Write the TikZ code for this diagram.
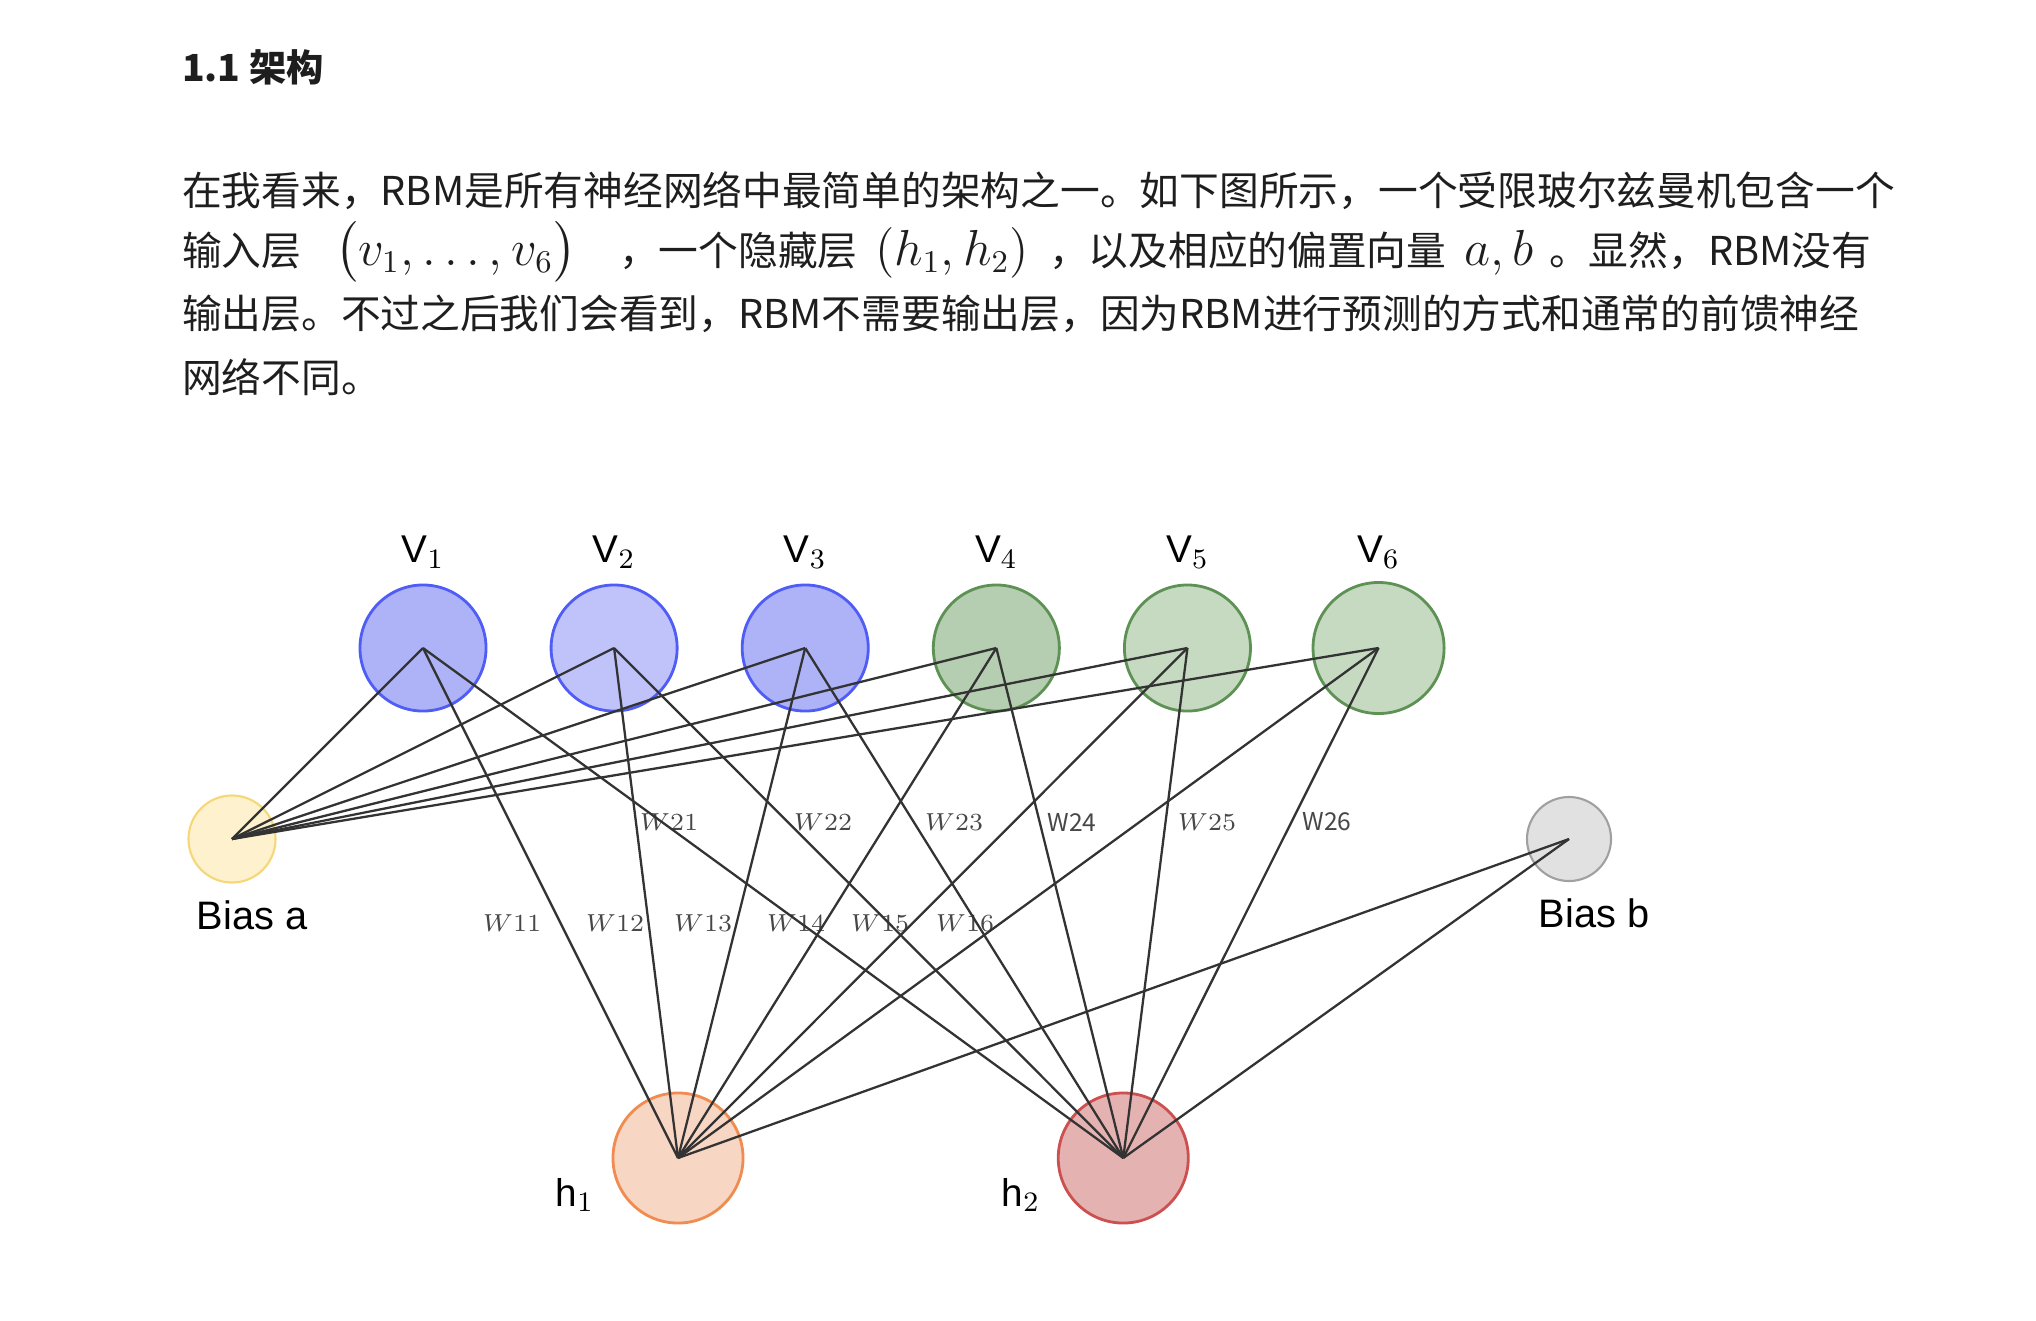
\documentclass[tikz,border=0pt]{standalone}
\usepackage{amsmath}
\usepackage{fontspec}
\setmainfont{Noto Sans CJK SC}
\setsansfont{Liberation Sans}
\usepackage{tikz}
\usetikzlibrary{calc}
\definecolor{visfill}{HTML}{AEB3F8}
\definecolor{vislite}{HTML}{C0C2FA}
\definecolor{visline}{HTML}{4F5CF5}
\definecolor{grnfill}{HTML}{B5CDB0}
\definecolor{grnlite}{HTML}{C6DAC2}
\definecolor{grnline}{HTML}{5E9255}
\definecolor{biasafill}{HTML}{FDF2CD}
\definecolor{biasaline}{HTML}{F5D778}
\definecolor{biasbfill}{HTML}{E1E1E1}
\definecolor{biasbline}{HTML}{A0A0A0}
\definecolor{hafill}{HTML}{F8D6C4}
\definecolor{haline}{HTML}{F08C50}
\definecolor{hbfill}{HTML}{E5B2B2}
\definecolor{hbline}{HTML}{CD5050}
\definecolor{txt}{HTML}{1E1E1E}

\begin{document}
\begin{tikzpicture}[x=0.01cm,y=-0.01cm,semithick,
    para/.style={anchor=base west,inner sep=0pt,text=txt,font=\fontsize{11.3}{13}\selectfont},
    mth/.style={para,font=\fontsize{13.3}{15}\selectfont},
    unit/.style={circle,draw,line width=0.8pt,inner sep=0pt,minimum size=1.26cm},
    lbl/.style={font=\sffamily\fontsize{11}{12}\selectfont},
    wlbl/.style={text=black!72,font=\fontsize{7}{8}\selectfont},
    wire/.style={draw=black!80,line width=0.65pt}]
      \useasboundingbox (0,0) rectangle (2036,1320);
      % text above the picture
      \node[para,font=\fontsize{10.6}{12}\selectfont\bfseries] (t0) at (181,81) {1.1 架构};
      \node[para] (t1) at (181,205) {在我看来，RBM是所有神经网络中最简单的架构之一。如下图所示，一个受限玻尔兹曼机包含一个};
      \node[para] (t2a) at (181,265) {输入层};
      \node[mth] (t2b) at (334,265) {$\bigl(v_1,\ldots,v_6\bigr)$};
      \node[para] (t2c) at (618,265) {，一个隐藏层};
      \node[mth] (t2d) at (874,265) {$(h_1,h_2)$};
      \node[para] (t2e) at (1048,265) {，以及相应的偏置向量};
      \node[mth] (t2f) at (1463,265) {$a,b$};
      \node[para] (t2g) at (1548,265) {。显然，RBM没有};
      \node[para] (t3) at (181,328) {输出层。不过之后我们会看到，RBM不需要输出层，因为RBM进行预测的方式和通常的前馈神经};
      \node[para] (t4) at (181,392) {网络不同。};
      % visible units
      \node[unit,draw=visline,fill=visfill] (v1) at (423,648) {};
      \node[unit,draw=visline,fill=vislite,node distance=1.91cm] (v2) [right of=v1] {};
      \node[unit,draw=visline,fill=visfill,node distance=1.91cm] (v3) [right of=v2] {};
      \node[unit,draw=grnline,fill=grnfill,node distance=1.91cm] (v4) [right of=v3] {};
      \node[unit,draw=grnline,fill=grnlite,node distance=1.91cm] (v5) [right of=v4] {};
      \node[unit,draw=grnline,fill=grnlite,minimum size=1.31cm,node distance=1.91cm] (v6) [right of=v5] {};
      \node[lbl,node distance=0.96cm] (lv1) [above of=v1] {V$_1$};
      \node[lbl,node distance=0.96cm] (lv2) [above of=v2] {V$_2$};
      \node[lbl,node distance=0.96cm] (lv3) [above of=v3] {V$_3$};
      \node[lbl,node distance=0.96cm] (lv4) [above of=v4] {V$_4$};
      \node[lbl,node distance=0.96cm] (lv5) [above of=v5] {V$_5$};
      \node[lbl,node distance=0.96cm] (lv6) [above of=v6] {V$_6$};
      % bias and hidden units
      \node[unit,draw=biasaline,fill=biasafill,line width=0.6pt,minimum size=0.87cm] (ba) at (232,839) {};
      \node[unit,draw=biasbline,fill=biasbfill,line width=0.6pt,minimum size=0.84cm] (bb) at (1569,839) {};
      \node[unit,draw=haline,fill=hafill,minimum size=1.3cm] (h1) at (678,1158) {};
      \node[unit,draw=hbline,fill=hbfill,minimum size=1.3cm,node distance=4.45cm] (h2) [right of=h1] {};
      \node[lbl,font=\sffamily\fontsize{11.3}{13}\selectfont] (lba) at (252,915) {Bias a};
      \node[lbl,font=\sffamily\fontsize{11.3}{13}\selectfont] (lbb) at (1594,913) {Bias b};
      \node[lbl] (lh1) at (575,1195) {h$_1$};
      \node[lbl] (lh2) at (1021,1195) {h$_2$};
      % weights
      \node[wlbl] (w11) at (512,923) {$W11$};
      \node[wlbl] (w12) at (615,923) {$W12$};
      \node[wlbl] (w13) at (703,923) {$W13$};
      \node[wlbl] (w14) at (796,923) {$W14$};
      \node[wlbl] (w15) at (880,923) {$W15$};
      \node[wlbl] (w16) at (965,923) {$W16$};
      \node[wlbl] (w21) at (669,822) {$W21$};
      \node[wlbl] (w22) at (823,822) {$W22$};
      \node[wlbl] (w23) at (954,822) {$W23$};
      \node[wlbl] (w24) at (1072,822) {W24};
      \node[wlbl] (w25) at (1207,822) {$W25$};
      \node[wlbl] (w26) at (1327,822) {W26};
      % connections
      \path[wire] (ba.center) edge (v1.center);
      \path[wire] (ba.center) edge (v2.center);
      \path[wire] (ba.center) edge (v3.center);
      \path[wire] (ba.center) edge (v4.center);
      \path[wire] (ba.center) edge (v5.center);
      \path[wire] (ba.center) edge (v6.center);
      \path[wire] (v1.center) edge (h1.center);
      \path[wire] (v2.center) edge (h1.center);
      \path[wire] (v3.center) edge (h1.center);
      \path[wire] (v4.center) edge (h1.center);
      \path[wire] (v5.center) edge (h1.center);
      \path[wire] (v6.center) edge (h1.center);
      \path[wire] (v1.center) edge (h2.center);
      \path[wire] (v2.center) edge (h2.center);
      \path[wire] (v3.center) edge (h2.center);
      \path[wire] (v4.center) edge (h2.center);
      \path[wire] (v5.center) edge (h2.center);
      \path[wire] (v6.center) edge (h2.center);
      \path[wire] (bb.center) edge (h1.center);
      \path[wire] (bb.center) edge (h2.center);
\end{tikzpicture}
\end{document}
